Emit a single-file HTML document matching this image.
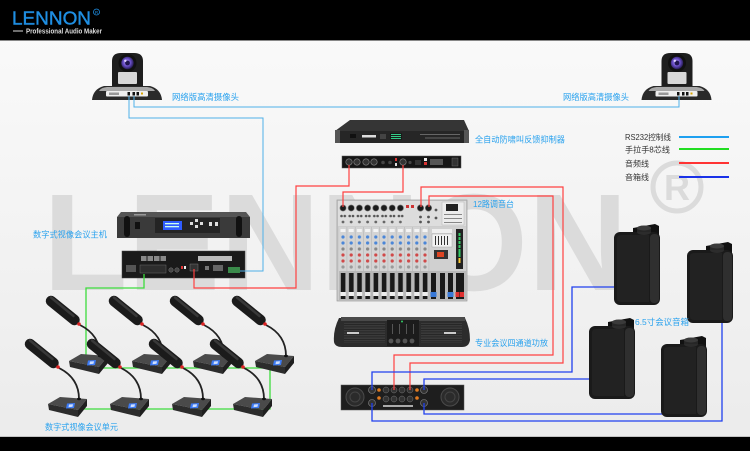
<!DOCTYPE html>
<html><head><meta charset="utf-8">
<style>
html,body{margin:0;padding:0;width:750px;height:451px;overflow:hidden;background:#fff}
svg{display:block}
.cn{font-family:"Liberation Sans","Noto Sans CJK SC",sans-serif;fill:#2aa2ee;font-size:8.5px}
.lg{font-family:"Liberation Sans","Noto Sans CJK SC",sans-serif;fill:#333;font-size:8px}
</style></head><body>
<svg width="750" height="451" viewBox="0 0 750 451" xmlns="http://www.w3.org/2000/svg" xmlns:xlink="http://www.w3.org/1999/xlink">
<defs>
<linearGradient id="bg" x1="0" y1="0" x2="0" y2="1"><stop offset="0" stop-color="#fbfbfb"/><stop offset="1" stop-color="#ebebeb"/></linearGradient>
<radialGradient id="lens" cx="0.45" cy="0.45" r="0.6"><stop offset="0" stop-color="#c0a8ff"/><stop offset="0.5" stop-color="#6a4fc8"/><stop offset="1" stop-color="#1a1240"/></radialGradient>
<pattern id="pjack" x="339" y="200" width="8.2" height="26" patternUnits="userSpaceOnUse">
  <circle cx="4" cy="8" r="3.1" fill="#1b1b1b" stroke="#777" stroke-width="0.6"/>
  <circle cx="2.5" cy="16" r="1.3" fill="#555"/><circle cx="5.8" cy="16" r="1.3" fill="#555"/>
  <circle cx="4" cy="22" r="1.4" fill="#666"/>
</pattern>
<pattern id="pknob" x="339" y="227" width="8.2" height="44" patternUnits="userSpaceOnUse">
  <rect x="0" y="0" width="8.2" height="44" fill="#d4d4d4"/>
  <line x1="8" y1="0" x2="8" y2="44" stroke="#b0b0b0" stroke-width="0.6"/>
  <rect x="1.5" y="2" width="5" height="3" fill="#f4f4f4"/>
  <circle cx="4" cy="10" r="1.6" fill="#4a86d8"/>
  <circle cx="4" cy="16" r="1.6" fill="#4a86d8"/>
  <circle cx="4" cy="22" r="1.6" fill="#888"/>
  <circle cx="4" cy="28" r="1.6" fill="#d04848"/>
  <circle cx="4" cy="34" r="1.6" fill="#d04848"/>
  <circle cx="4" cy="40" r="1.6" fill="#999"/>
</pattern>
<pattern id="pfader" x="339" y="271" width="8.2" height="30" patternUnits="userSpaceOnUse">
  <rect x="0" y="0" width="8.2" height="30" fill="#b8b8b8"/>
  <rect x="1.8" y="2" width="4.6" height="26" fill="#1a1a1a"/>
  <rect x="1.4" y="21" width="5.4" height="4" fill="#eeeeee"/>
</pattern>
<pattern id="vent" x="0" y="0" width="3" height="2.5" patternUnits="userSpaceOnUse">
  <rect width="3" height="2.5" fill="#3a3a3a"/><rect y="1.5" width="3" height="0.8" fill="#222"/>
</pattern>
<g id="cam">
 <path d="M92,100 Q93,89 104,86 L150,86 Q161,89 162,100 Z" fill="#2a2a2a"/>
 <path d="M99,91 Q101,87.5 107,87 L147,87 Q153,87.5 155,91 Z" fill="#a8a8a8"/>
 <rect x="106" y="91" width="42" height="5.5" rx="1" fill="#efefef"/>
 <rect x="109" y="92.5" width="10" height="2.5" fill="#999"/>
 <rect x="127.5" y="92" width="2.5" height="3.5" fill="#111"/>
 <rect x="132.5" y="92" width="2.5" height="3.5" fill="#111"/>
 <rect x="136.5" y="92" width="2.5" height="3.5" fill="#111"/>
 <rect x="141" y="92.5" width="2" height="2" fill="#d9a400"/>
 <path d="M112,86 L112,61 Q112,53 121,53 L134,53 Q143,53 143,61 L143,86 Z" fill="#1e1e1e"/>
 <rect x="118" y="72" width="19" height="12" rx="1" fill="#d8d8d8"/>
 <circle cx="127.5" cy="63" r="9" fill="#111"/>
 <circle cx="127.5" cy="63" r="6.2" fill="url(#lens)"/>
 <circle cx="127.5" cy="63" r="2.4" fill="#20164f"/>
 <circle cx="125.3" cy="60.8" r="1.2" fill="#e0d4ff"/>
</g>
<g id="spk">
 <path d="M19,9 L19,4 L41,0 L45,2 L45,13 Z" fill="#111"/>
 <rect x="0" y="8" width="46" height="73" rx="6" fill="#1a1a1a"/>
 <rect x="36" y="10" width="9" height="69" rx="4" fill="#2f2f2f"/>
 <path d="M3,14 Q3,11 8,11 L35,11 L35,78 L8,78 Q3,78 3,75 Z" fill="#222"/>
 <ellipse cx="30" cy="8" rx="7" ry="3" fill="#2c2c2c"/>
 <rect x="23" y="4" width="14" height="4" fill="#262626"/>
 <ellipse cx="30" cy="4" rx="7" ry="2.5" fill="#3a3a3a"/>
</g>
<g id="mic">
 <path d="M11,-28 Q31,-18 31,3" fill="none" stroke="#222" stroke-width="1.8"/>
 <line x1="-18" y1="-52" x2="5.5" y2="-33" stroke="#1b1b1b" stroke-width="10.5" stroke-linecap="round"/>
 <line x1="-18" y1="-55.5" x2="4.5" y2="-37" stroke="#383838" stroke-width="2.5" stroke-linecap="round"/>
 <circle cx="10" cy="-29" r="1.8" fill="#d22"/>
 <polygon points="0,8 12,1 39,3 30,14" fill="#4a4a4a"/>
 <polygon points="0,8 30,14 30,21 1,14" fill="#2c2c2c"/>
 <polygon points="30,14 39,3 39,10 30,21" fill="#1f1f1f"/>
 <polygon points="19,7.5 27,7 26,12 18,12.5" fill="#3d7bf5"/>
 <polygon points="21,8.5 25,8.2 24.5,10.8 20.5,11.2" fill="#cfe0ff"/>
 <ellipse cx="31" cy="3" rx="2" ry="1.2" fill="#111"/>
</g>
</defs>

<rect width="750" height="451" fill="url(#bg)"/>

<!-- watermark -->
<text x="43" y="290" font-family="Liberation Sans" font-weight="bold" font-size="138" fill="#dbdbdb" textLength="585" lengthAdjust="spacingAndGlyphs">LENNON</text>
<circle cx="677" cy="187" r="24" fill="none" stroke="#dbdbdb" stroke-width="5"/>
<text x="677" y="200" text-anchor="middle" font-family="Liberation Sans" font-weight="bold" font-size="36" fill="#dbdbdb">R</text>

<!-- top/bottom bars -->
<rect width="750" height="40" fill="#000"/>
<rect y="40" width="750" height="1" fill="#888"/>
<rect y="436" width="750" height="1" fill="#c4c4c4"/>
<rect y="437" width="750" height="14" fill="#000"/>

<!-- logo -->
<text x="12" y="24.5" font-family="Liberation Sans" font-size="18" fill="#1f8fe3" stroke="#1f8fe3" stroke-width="0.4" textLength="79" lengthAdjust="spacingAndGlyphs">LENNON</text>
<circle cx="96.5" cy="12" r="3" fill="none" stroke="#1f8fe3" stroke-width="0.8"/>
<text x="96.5" y="13.8" text-anchor="middle" font-family="Liberation Sans" font-size="4.5" fill="#1f8fe3">R</text>
<rect x="13" y="30.5" width="10" height="1" fill="#ddd"/>
<text x="26" y="33.5" font-family="Liberation Sans" font-weight="bold" font-size="7.5" fill="#dddddd" textLength="76" lengthAdjust="spacingAndGlyphs">Professional Audio Maker</text>

<!-- cameras -->
<use href="#cam" xlink:href="#cam"/>
<use href="#cam" xlink:href="#cam" transform="translate(549.5,0)"/>

<!-- feedback suppressor front -->
<path d="M350,120 L464,120 L469,131 L335,131 Z" fill="#353535"/>
<rect x="335" y="131" width="134" height="12" fill="#262626"/>
<rect x="335" y="130" width="5" height="13" fill="#555"/>
<rect x="464" y="130" width="5" height="13" fill="#555"/>
<rect x="350" y="134" width="6" height="4" fill="#111"/>
<rect x="362" y="135" width="14" height="2.5" fill="#ddd"/>
<rect x="380" y="134" width="6" height="5" fill="#444"/>
<rect x="390" y="133" width="12" height="7" fill="#1a1a1a"/>
<rect x="391" y="134" width="10" height="1" fill="#3c8"/><rect x="391" y="136" width="10" height="1" fill="#3c8"/><rect x="391" y="138" width="10" height="1" fill="#3c8"/>
<rect x="420" y="134" width="40" height="1" fill="#666"/>
<rect x="425" y="137.5" width="35" height="1" fill="#666"/>

<!-- feedback suppressor back -->
<rect x="342" y="156" width="119" height="12" fill="#161616" stroke="#555" stroke-width="0.5"/>
<circle cx="349" cy="162" r="3.2" fill="#333" stroke="#888" stroke-width="0.6"/>
<circle cx="357" cy="162" r="3.2" fill="#333" stroke="#888" stroke-width="0.6"/>
<circle cx="366" cy="162" r="3.2" fill="#333" stroke="#888" stroke-width="0.6"/>
<circle cx="374" cy="162" r="3.2" fill="#333" stroke="#888" stroke-width="0.6"/>
<circle cx="383" cy="162.5" r="1.8" fill="#444"/>
<circle cx="390" cy="162.5" r="1.8" fill="#444"/>
<rect x="395" y="158" width="2" height="3" fill="#d33"/><rect x="395" y="163" width="2" height="3" fill="#ddd"/>
<circle cx="403" cy="162" r="3.2" fill="#333" stroke="#888" stroke-width="0.6"/>
<circle cx="410" cy="162.5" r="1.6" fill="#444"/>
<rect x="415" y="160" width="6" height="5" fill="#333"/>
<rect x="424" y="158" width="3" height="3" fill="#eee"/><rect x="424" y="162" width="3" height="3" fill="#d33"/>
<rect x="430" y="159" width="13" height="6" fill="#555"/>
<rect x="452" y="158" width="6" height="8" fill="#333" stroke="#777" stroke-width="0.4"/>

<!-- mixer -->
<rect x="337" y="200" width="130" height="101" fill="#cdcdcd" stroke="#999" stroke-width="0.7"/>
<rect x="338" y="201" width="128" height="25" fill="#dddddd"/>
<rect x="339" y="200" width="65.6" height="26" fill="url(#pjack)"/>
<rect x="404.6" y="201" width="12" height="24" fill="#dcdcdc"/>
<rect x="406" y="205" width="3" height="3" fill="#c33"/><rect x="411" y="205" width="3" height="3" fill="#c33"/>
<circle cx="420.5" cy="208" r="3.2" fill="#1b1b1b" stroke="#777" stroke-width="0.6"/>
<circle cx="428.5" cy="208" r="3.2" fill="#1b1b1b" stroke="#777" stroke-width="0.6"/>
<circle cx="420.5" cy="217" r="1.4" fill="#555"/><circle cx="428.5" cy="217" r="1.4" fill="#555"/>
<circle cx="420.5" cy="222" r="1.4" fill="#555"/><circle cx="428.5" cy="222" r="1.4" fill="#555"/>
<circle cx="436" cy="210" r="1.4" fill="#555"/><circle cx="436" cy="218" r="1.4" fill="#555"/>
<rect x="442" y="202" width="22" height="23" fill="#ececec" stroke="#aaa" stroke-width="0.4"/>
<rect x="446" y="204" width="12" height="7" fill="#222"/>
<rect x="444" y="214" width="18" height="1" fill="#888"/><rect x="444" y="218" width="18" height="1" fill="#888"/><rect x="444" y="222" width="18" height="1" fill="#888"/>
<rect x="339" y="227" width="90.2" height="44" fill="url(#pknob)"/>
<rect x="430" y="227" width="36" height="44" fill="#d0d0d0"/>
<rect x="432" y="229" width="20" height="4" fill="#eee"/>
<rect x="432" y="234" width="20" height="13" fill="#f2f2f2" stroke="#999" stroke-width="0.4"/>
<rect x="435" y="236" width="1" height="9" fill="#333"/><rect x="438" y="236" width="1" height="9" fill="#333"/><rect x="441" y="236" width="1" height="9" fill="#333"/><rect x="444" y="236" width="1" height="9" fill="#333"/><rect x="447" y="236" width="1" height="9" fill="#333"/>
<rect x="434" y="250" width="14" height="9" fill="#333"/>
<rect x="437" y="252" width="7" height="5" fill="#d42"/>
<rect x="456" y="229" width="7" height="40" fill="#222"/>
<rect x="458.5" y="233" width="2" height="24" fill="#3c6"/><rect x="458.5" y="236" width="2" height="1" fill="#222"/><rect x="458.5" y="240" width="2" height="1" fill="#222"/><rect x="458.5" y="244" width="2" height="1" fill="#222"/><rect x="458.5" y="248" width="2" height="1" fill="#222"/>
<rect x="458.5" y="258" width="2" height="5" fill="#fc3"/>
<rect x="339" y="271" width="90.2" height="29" fill="url(#pfader)"/>
<rect x="429" y="271" width="37" height="29" fill="#b8b8b8"/>
<rect x="431" y="273" width="5" height="26" fill="#1a1a1a"/><rect x="430.5" y="292" width="6" height="5" fill="#3a7ad8"/>
<rect x="440" y="273" width="5" height="26" fill="#1a1a1a"/>
<rect x="448" y="273" width="5" height="26" fill="#1a1a1a"/><rect x="447.5" y="292" width="6" height="5" fill="#3a7ad8"/>
<rect x="456" y="273" width="8" height="26" fill="#1a1a1a"/><rect x="455.5" y="292" width="4" height="5" fill="#e03030"/><rect x="460" y="292" width="4" height="5" fill="#e03030"/>

<!-- host front -->
<path d="M121,212 L246,212 L250,217 L117,217 Z" fill="#555"/>
<rect x="117" y="217" width="133" height="21" fill="#3a3a3a"/>
<rect x="124" y="216" width="6" height="21" rx="3" fill="#111"/>
<rect x="236" y="216" width="6" height="21" rx="3" fill="#111"/>
<rect x="134" y="214" width="12" height="1.5" fill="#999"/>
<rect x="135" y="222" width="5" height="7" fill="#111"/>
<rect x="155" y="218" width="65" height="15" fill="#242424"/>
<rect x="163" y="221" width="19" height="9" fill="#2f5cff"/>
<rect x="165" y="223" width="14" height="1.3" fill="#cfe"/><rect x="165" y="226" width="14" height="1.3" fill="#cfe"/>
<rect x="190" y="222" width="3" height="3" fill="#ddd"/><rect x="195" y="219" width="3" height="3" fill="#ddd"/><rect x="195" y="225" width="3" height="3" fill="#ddd"/><rect x="200" y="222" width="3" height="3" fill="#ddd"/>
<rect x="209" y="222" width="3" height="4" fill="#ddd"/><rect x="215" y="222" width="3" height="4" fill="#ddd"/>

<!-- host back -->
<rect x="122" y="251" width="123" height="27" fill="#1a1a1a" stroke="#444" stroke-width="0.5"/>
<rect x="126" y="265" width="10" height="7" fill="#555"/>
<rect x="141" y="256" width="5.5" height="5" fill="#888"/><rect x="147.5" y="256" width="5.5" height="5" fill="#888"/><rect x="154" y="256" width="5.5" height="5" fill="#888"/><rect x="160.5" y="256" width="5.5" height="5" fill="#888"/>
<rect x="140" y="265" width="26" height="8" fill="#2d2d2d" stroke="#666" stroke-width="0.5"/>
<circle cx="171" cy="270" r="2.2" fill="#444" stroke="#888" stroke-width="0.4"/><circle cx="177" cy="270" r="2.2" fill="#444" stroke="#888" stroke-width="0.4"/>
<rect x="181" y="266" width="2" height="3" fill="#d33"/><rect x="184" y="266" width="2" height="3" fill="#eee"/>
<rect x="190" y="264" width="8" height="7" fill="#333" stroke="#888" stroke-width="0.4"/>
<rect x="198" y="256" width="34" height="5" fill="#bbb"/>
<rect x="205" y="266" width="4" height="4" fill="#777"/>
<rect x="213" y="265" width="10" height="6" fill="#666"/>
<rect x="228" y="267" width="12" height="6" fill="#3a8a4a"/>

<!-- amp front -->
<path d="M339,318 Q333,330 334,342 Q335,347 342,347 L462,347 Q469,347 470,340 Q470,328 465,318 Z" fill="#2c2c2c"/>
<rect x="341" y="317" width="124" height="4" fill="#4a4a4a"/>
<rect x="344" y="323" width="41" height="20" fill="url(#vent)"/>
<rect x="421" y="323" width="41" height="20" fill="url(#vent)"/>
<rect x="347" y="332" width="12" height="2" fill="#ccc"/>
<rect x="444" y="332" width="12" height="2" fill="#ccc"/>
<rect x="387" y="320" width="32" height="26" fill="#1c1c1c"/>
<rect x="392" y="324" width="1" height="10" fill="#555"/><rect x="399" y="324" width="1" height="10" fill="#555"/><rect x="406" y="324" width="1" height="10" fill="#555"/><rect x="413" y="324" width="1" height="10" fill="#555"/>
<circle cx="402" cy="321.5" r="1" fill="#3c6"/>
<circle cx="391" cy="341" r="2.4" fill="#555"/><circle cx="398" cy="341" r="2.4" fill="#555"/><circle cx="405" cy="341" r="2.4" fill="#555"/><circle cx="412" cy="341" r="2.4" fill="#555"/>

<!-- amp back -->
<rect x="341" y="385" width="123" height="25" fill="#1e1e1e" stroke="#555" stroke-width="0.5"/>
<circle cx="355" cy="397" r="9" fill="#2b2b2b" stroke="#4a4a4a" stroke-width="1"/>
<circle cx="355" cy="397" r="5" fill="none" stroke="#444" stroke-width="1"/>
<circle cx="450" cy="397" r="9" fill="#2b2b2b" stroke="#4a4a4a" stroke-width="1"/>
<circle cx="450" cy="397" r="5" fill="none" stroke="#444" stroke-width="1"/>
<circle cx="372" cy="390" r="3.5" fill="#333" stroke="#888" stroke-width="0.6"/>
<circle cx="372" cy="403" r="3.5" fill="#333" stroke="#888" stroke-width="0.6"/>
<circle cx="424" cy="390" r="3.5" fill="#333" stroke="#888" stroke-width="0.6"/>
<circle cx="424" cy="403" r="3.5" fill="#333" stroke="#888" stroke-width="0.6"/>
<circle cx="379" cy="390" r="1.8" fill="#e07a20"/><circle cx="379" cy="398" r="1.8" fill="#e07a20"/>
<circle cx="417" cy="390" r="1.8" fill="#e07a20"/><circle cx="417" cy="398" r="1.8" fill="#e07a20"/>
<circle cx="386" cy="390" r="3" fill="#333" stroke="#777" stroke-width="0.5"/><circle cx="394" cy="390" r="3" fill="#333" stroke="#777" stroke-width="0.5"/><circle cx="402" cy="390" r="3" fill="#333" stroke="#777" stroke-width="0.5"/><circle cx="410" cy="390" r="3" fill="#333" stroke="#777" stroke-width="0.5"/>
<circle cx="386" cy="399" r="3" fill="#333" stroke="#777" stroke-width="0.5"/><circle cx="394" cy="399" r="3" fill="#333" stroke="#777" stroke-width="0.5"/><circle cx="402" cy="399" r="3" fill="#333" stroke="#777" stroke-width="0.5"/><circle cx="410" cy="399" r="3" fill="#333" stroke="#777" stroke-width="0.5"/>
<rect x="383" y="405" width="30" height="2" fill="#aaa"/>

<!-- camera lines -->
<polyline points="129,96 129,118 263,118 263,271 240,271" fill="none" stroke="#4fb0e8" stroke-width="1"/>
<polyline points="134,96 134,107 679,107 679,96" fill="none" stroke="#4fb0e8" stroke-width="1"/>

<!-- red audio lines -->
<g fill="none" stroke="#ff4040" stroke-width="1.2">
<polyline points="349,165 349,186 296,186 296,288 194,288 194,269"/>
<polyline points="403,165 403,192 343,192 343,207"/>
<polyline points="421,207 421,187 563,187 563,363 410,363 410,390"/>
<polyline points="429,207 429,196 553,196 553,355 394,355 394,390"/>
</g>

<!-- speaker lines -->
<g fill="none" stroke="#2040ee" stroke-width="1.3">
<polyline points="372,390 372,372 572,372 572,287 620,287"/>
<polyline points="424,390 424,379 596,379"/>
<polyline points="424,403 424,414 688,414"/>
<polyline points="372,403 372,421 722,421 722,318"/>
</g>

<!-- speakers -->
<use href="#spk" xlink:href="#spk" transform="translate(614,224)"/>
<use href="#spk" xlink:href="#spk" transform="translate(687,242)"/>
<use href="#spk" xlink:href="#spk" transform="translate(589,318)"/>
<use href="#spk" xlink:href="#spk" transform="translate(661,336)"/>

<!-- green lines -->
<g fill="none" stroke="#3ddc3d" stroke-width="1.3">
<polyline points="144,274 144,288 86,288 86,358"/>
<polyline points="100,368 270,368 270,409 80,409"/>
</g>

<!-- microphones -->
<use href="#mic" xlink:href="#mic" transform="translate(69,353)"/>
<use href="#mic" xlink:href="#mic" transform="translate(132,353)"/>
<use href="#mic" xlink:href="#mic" transform="translate(193,353)"/>
<use href="#mic" xlink:href="#mic" transform="translate(255,353)"/>
<use href="#mic" xlink:href="#mic" transform="translate(48,396)"/>
<use href="#mic" xlink:href="#mic" transform="translate(110,396)"/>
<use href="#mic" xlink:href="#mic" transform="translate(172,396)"/>
<use href="#mic" xlink:href="#mic" transform="translate(233,396)"/>

<!-- labels -->
<text class="cn" x="172" y="100" textLength="67" lengthAdjust="spacingAndGlyphs">网络版高清摄像头</text>
<text class="cn" x="563" y="100" textLength="66" lengthAdjust="spacingAndGlyphs">网络版高清摄像头</text>
<text class="cn" x="475" y="142.5" textLength="90" lengthAdjust="spacingAndGlyphs">全自动防啸叫反馈抑制器</text>
<text class="cn" x="473" y="207" textLength="41" lengthAdjust="spacingAndGlyphs">12路调音台</text>
<text class="cn" x="33" y="237.5" textLength="74" lengthAdjust="spacingAndGlyphs">数字式视像会议主机</text>
<text class="cn" x="475" y="346" textLength="73" lengthAdjust="spacingAndGlyphs">专业会议四通道功放</text>
<text class="cn" x="635" y="325" textLength="54" lengthAdjust="spacingAndGlyphs">6.5寸会议音箱</text>
<text class="cn" x="45" y="430" textLength="73" lengthAdjust="spacingAndGlyphs">数字式视像会议单元</text>

<!-- legend -->
<text class="lg" x="625" y="140" textLength="46" lengthAdjust="spacingAndGlyphs">RS232控制线</text>
<text class="lg" x="625" y="152.5" textLength="45" lengthAdjust="spacingAndGlyphs">手拉手8芯线</text>
<text class="lg" x="625" y="166.5" textLength="24" lengthAdjust="spacingAndGlyphs">音频线</text>
<text class="lg" x="625" y="180" textLength="24" lengthAdjust="spacingAndGlyphs">音箱线</text>
<rect x="679" y="136" width="50" height="2" fill="#1ea0f0"/>
<rect x="679" y="148" width="50" height="2" fill="#22dd22"/>
<rect x="679" y="162" width="50" height="2" fill="#ff3333"/>
<rect x="679" y="176" width="50" height="2" fill="#1a32e8"/>
</svg>
</body></html>
